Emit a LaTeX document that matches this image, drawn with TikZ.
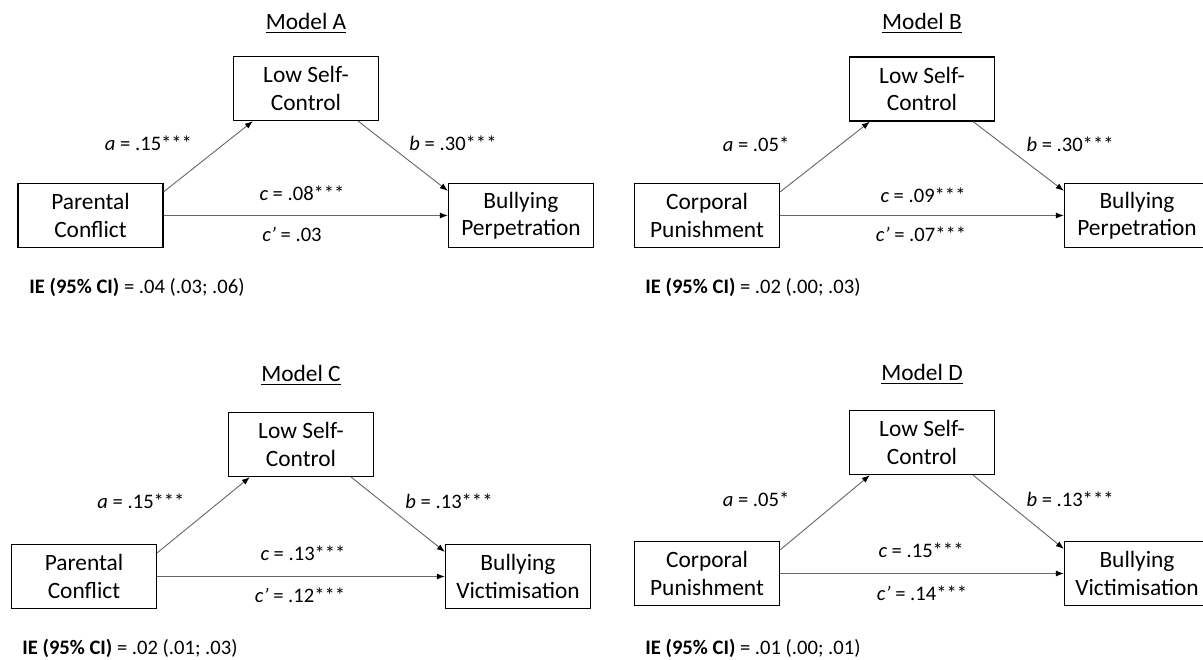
\documentclass[tikz,border=0pt]{standalone}
\usepackage{fontspec}
\setmainfont{Carlito}
\usetikzlibrary{arrows.meta}
\newcommand\varfont{\fontsize{11.7}{13.6}\selectfont}
\newcommand\coeffont{\fontsize{10.3}{12}\selectfont}
\tikzset{
  var/.style={draw,line width=0.65pt,minimum width=72.5pt,minimum height=32pt,inner sep=0pt,align=center,font=\varfont},
  effect/.style={-{Latex[length=4pt,width=3pt,color=black]},draw=black!60,line width=0.45pt},
  coef/.style={font=\coeffont,inner sep=0pt},
  heading/.style={font=\varfont,inner sep=0pt},
  ie/.style={font=\coeffont,anchor=west,inner sep=0pt}
}

\begin{document}
\begin{tikzpicture}[x=0.5pt,y=-0.5pt]
  \useasboundingbox (0,0) rectangle (1203,659);
  \clip (0,0) rectangle (1203,659);

  % Model A
  \node[heading] (titleA) at (306,23) {\underline{Model A}};
  \node[var] (pcA) at (90.5,215.5) {Parental\\Conflict};
  \node[var] (lscA) at (306,88.5) {Low Self-\\Control};
  \node[var] (bpA) at (521,215.5) {Bullying\\Perpetration};
  \draw[effect] ([yshift=-4.5pt]pcA.north east) -- ([xshift=10pt]lscA.south west);
  \draw[effect] ([xshift=-10.5pt]lscA.south east) -- ([yshift=-4pt]bpA.north west);
  \draw[effect] (pcA.east) -- (bpA.west);
  \node[coef] (aA) at (148.5,143) {\textit{a} = .15***};
  \node[coef] (bA) at (453,143) {\textit{b} = .30***};
  \node[coef] (cA) at (302,193) {\textit{c} = .08***};
  \node[coef] (cpA) at (292,234) {\textit{c'} = .03};
  \node[ie] (ieA) at (29,287) {\textbf{IE (95\% CI)} = .04 (.03; .06)};

  % Model B
  \node[heading] (titleB) at (922,23) {\underline{Model B}};
  \node[var] (cpB) at (707,215.5) {Corporal\\Punishment};
  \node[var] (lscB) at (922,89) {Low Self-\\Control};
  \node[var] (bpB) at (1137,215.5) {Bullying\\Perpetration};
  \draw[effect] ([yshift=-4.5pt]cpB.north east) -- ([xshift=10.5pt]lscB.south west);
  \draw[effect] ([xshift=-11pt]lscB.south east) -- ([yshift=-4pt]bpB.north west);
  \draw[effect] (cpB.east) -- (bpB.west);
  \node[coef] (aB) at (756,144) {\textit{a} = .05*};
  \node[coef] (bB) at (1070,144) {\textit{b} = .30***};
  \node[coef] (cB) at (923,195) {\textit{c} = .09***};
  \node[coef] (cpB2) at (921,234) {\textit{c'} = .07***};
  \node[ie] (ieB) at (645,287) {\textbf{IE (95\% CI)} = .02 (.00; .03)};

  % Model C
  \node[heading] (titleC) at (301,375) {\underline{Model C}};
  \node[var] (pcC) at (84,576.5) {Parental\\Conflict};
  \node[var] (lscC) at (301,444.5) {Low Self-\\Control};
  \node[var] (bvC) at (518,576.5) {Bullying\\Victimisation};
  \draw[effect] ([yshift=-4.5pt]pcC.north east) -- ([xshift=11pt]lscC.south west);
  \draw[effect] ([xshift=-11.5pt]lscC.south east) -- ([yshift=-4pt]bvC.north west);
  \draw[effect] (pcC.east) -- (bvC.west);
  \node[coef] (aC) at (141,501) {\textit{a} = .15***};
  \node[coef] (bC) at (449,501) {\textit{b} = .13***};
  \node[coef] (cC) at (303,553) {\textit{c} = .13***};
  \node[coef] (cpC) at (300,595) {\textit{c'} = .12***};
  \node[ie] (ieC) at (22,648) {\textbf{IE (95\% CI)} = .02 (.01; .03)};

  % Model D
  \node[heading] (titleD) at (922,374) {\underline{Model D}};
  \node[var] (cpD) at (707,573.5) {Corporal\\Punishment};
  \node[var] (lscD) at (922,442.5) {Low Self-\\Control};
  \node[var] (bvD) at (1137,573.5) {Bullying\\Victimisation};
  \draw[effect] ([yshift=-4.5pt]cpD.north east) -- ([xshift=10.5pt]lscD.south west);
  \draw[effect] ([xshift=-11pt]lscD.south east) -- ([yshift=-4pt]bvD.north west);
  \draw[effect] (cpD.east) -- (bvD.west);
  \node[coef] (aD) at (756,499) {\textit{a} = .05*};
  \node[coef] (bD) at (1070,499) {\textit{b} = .13***};
  \node[coef] (cD) at (921,550) {\textit{c} = .15***};
  \node[coef] (cpD2) at (922,593) {\textit{c'} = .14***};
  \node[ie] (ieD) at (645,648) {\textbf{IE (95\% CI)} = .01 (.00; .01)};
\end{tikzpicture}
\end{document}
